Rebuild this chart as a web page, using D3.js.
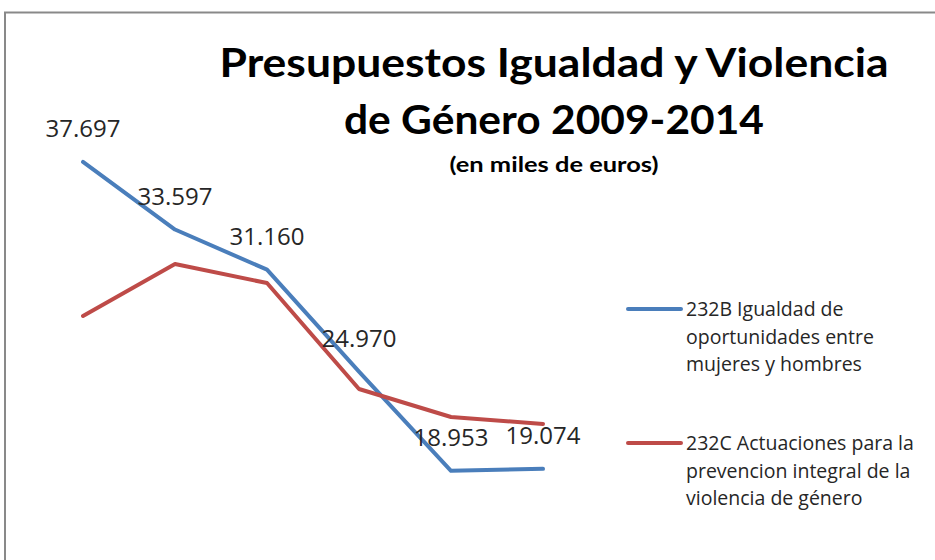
<!DOCTYPE html>
<html>
<head>
<meta charset="utf-8">
<script src="https://cdnjs.cloudflare.com/ajax/libs/d3/7.8.5/d3.min.js"></script>
<style>
    body { margin: 0; background: #fff; }
    svg { display: block; }
</style>
</head>
<body>
<script>
// Daten (miles de euros)
const years = ['2009', '2010', '2011', '2012', '2013', '2014'];
const igualdad = [37697, 33597, 31160, 24970, 18953, 19074];
const violencia = [28350, 31500, 30350, 23920, 22220, 21800];
const seriesNames = [
    ['232B Igualdad de', 'oportunidades entre', 'mujeres y hombres'],
    ['232C Actuaciones para la', 'prevencion integral de la', 'violencia de género']
];
const titleLines = ['Presupuestos Igualdad y Violencia', 'de Género 2009-2014', '(en miles de euros)'];

const width = 935, height = 560;
const colors = ['#4A7EBB', '#BE4B48'];

const svg = d3.select('body').append('svg')
    .attr('width', width)
    .attr('height', height);

// Rahmen (nur links und oben sichtbar)
svg.append('path')
    .attr('d', 'M5,' + height + 'V12.5H' + width)
    .attr('fill', 'none')
    .attr('stroke', '#898989')
    .attr('stroke-width', 2);

const x = d3.scalePoint()
    .domain(years)
    .range([37, 589])
    .padding(0.5);

const y = d3.scaleLinear()
    .domain([15000, 40000])
    .range([536, 124]);

const line = d3.line()
    .x((_d, i) => x(years[i]))
    .y(d => y(d));

// Linien
const series = [igualdad, violencia];
svg.selectAll('path.serie')
    .data(series)
    .enter()
    .append('path')
    .attr('class', 'serie')
    .attr('d', line)
    .attr('fill', 'none')
    .attr('stroke', (_d, i) => colors[i])
    .attr('stroke-width', 4)
    .attr('stroke-linecap', 'round')
    .attr('stroke-linejoin', 'round');

// Datenbeschriftung nur für die blaue Reihe
svg.selectAll('text.label')
    .data(igualdad)
    .enter()
    .append('text')
    .attr('class', 'label')
    .attr('x', (_d, i) => x(years[i]))
    .attr('y', d => y(d) - 25)
    .attr('text-anchor', 'middle')
    .style('font-family', '"Open Sans", sans-serif')
    .style('font-size', '24px')
    .style('fill', '#262626')
    .text(d => d3.format(',')(d).replace(',', '.'));

// Titel
const titleSpec = [
    { y: 77, size: 41, len: 669 },
    { y: 134, size: 41, len: 420 },
    { y: 172, size: 21, len: 209 }
];
svg.selectAll('text.title')
    .data(titleLines)
    .enter()
    .append('text')
    .attr('class', 'title')
    .attr('x', 554)
    .attr('y', (_d, i) => titleSpec[i].y)
    .attr('text-anchor', 'middle')
    .attr('textLength', (_d, i) => titleSpec[i].len)
    .attr('lengthAdjust', 'spacingAndGlyphs')
    .style('font-family', 'Lato, sans-serif')
    .style('font-weight', 'bold')
    .style('font-size', (_d, i) => titleSpec[i].size + 'px')
    .style('fill', '#000')
    .text(d => d);

// Legende
const legend = svg.selectAll('g.legend')
    .data(seriesNames)
    .enter()
    .append('g')
    .attr('class', 'legend')
    .attr('transform', (_d, i) => 'translate(0,' + (i === 0 ? 309 : 443) + ')');

legend.append('line')
    .attr('x1', 628)
    .attr('x2', 681)
    .attr('stroke', (_d, i) => colors[i])
    .attr('stroke-width', 4)
    .attr('stroke-linecap', 'round');

legend.selectAll('text')
    .data(d => d)
    .enter()
    .append('text')
    .attr('x', 686)
    .attr('y', (_d, i) => i * 27.5 + 7)
    .style('font-family', '"Open Sans", sans-serif')
    .style('font-size', '19.5px')
    .style('fill', '#262626')
    .text(d => d);
</script>
</body>
</html>
